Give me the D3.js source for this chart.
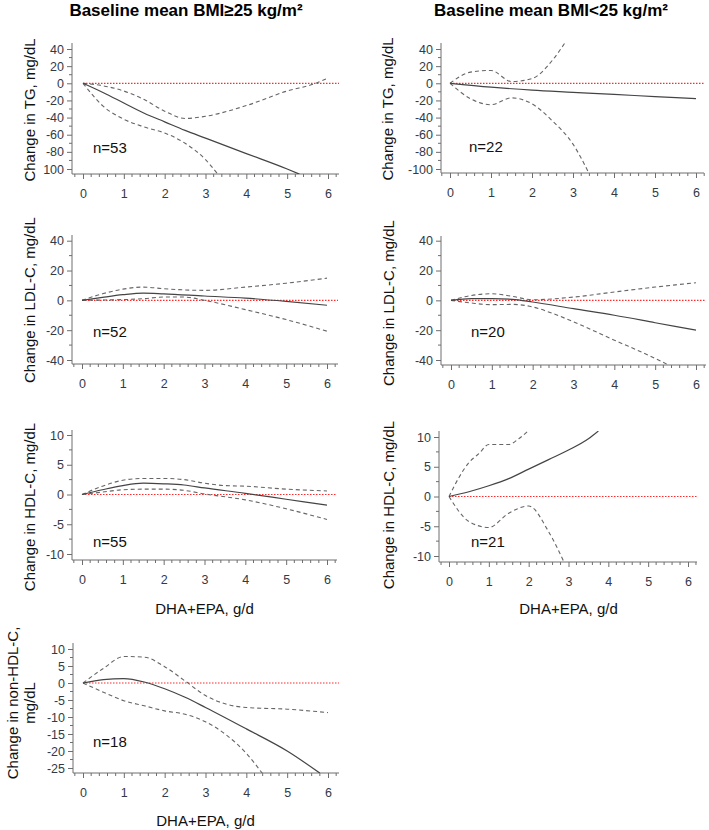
<!DOCTYPE html>
<html>
<head>
<meta charset="utf-8">
<script src="https://cdn.jsdelivr.net/npm/d3@7"></script>
<style>
  body { margin: 0; background: #fff; }
  svg text { font-family: "Liberation Sans", Arial, sans-serif; }
</style>
</head>
<body>
<div id="container"></div>
<script>
// Chart size
const width = 709;
const height = 830;

// Tick values
const xTicks = [0, 1, 2, 3, 4, 5, 6];
const tgTicks = [40, 20, 0, -20, -40, -60, -80, -100];
const tgTickLabelsLeft = ['40', '20', '0', '-20', '-40', '-60', '-80', '100'];
const ldlTicks = [40, 20, 0, -20, -40];
const hdlTicks = [10, 5, 0, -5, -10];
const nonHdlTicks = [10, 5, 0, -5, -10, -15, -20, -25];

// Titles and labels
const columnTitles = ['Baseline mean BMI\u226525 kg/m\u00b2', 'Baseline mean BMI<25 kg/m\u00b2'];
const xLabel = 'DHA+EPA, g/d';

// TG, BMI >= 25 (n=53)
const tgHiEstX = [0, 0.5, 1, 1.5, 2, 2.5, 3, 4, 5, 5.3];
const tgHiEstY = [0, -11, -23, -35, -45, -55, -64, -82, -100, -106];
const tgHiUpX = [0, 0.5, 1, 1.5, 2, 2.5, 3, 4, 5, 5.7, 5.95];
const tgHiUpY = [0, -3, -9, -19, -32.5, -41, -38.5, -26, -9, 0, 5];
const tgHiLoX = [0, 0.5, 1, 1.5, 2, 2.5, 3, 3.3];
const tgHiLoY = [0, -27, -42, -51, -58, -70, -89, -106];

// TG, BMI < 25 (n=22)
const tgLoEstX = [0, 1, 2, 3, 4, 5, 6];
const tgLoEstY = [0, -4.5, -8, -10.5, -13, -15.5, -18];
const tgLoUpX = [0, 0.5, 1, 1.5, 2, 2.5, 2.8];
const tgLoUpY = [0, 13, 15, 2, 5.5, 27, 47];
const tgLoLoX = [0, 0.5, 1, 1.5, 2, 2.5, 3, 3.4];
const tgLoLoY = [0, -18, -25, -17, -24, -44, -71, -106];

// LDL-C, BMI >= 25 (n=52)
const ldlHiEstX = [0, 0.5, 1, 1.5, 2, 3, 4, 5, 6];
const ldlHiEstY = [0, 2, 3.8, 4.9, 4.4, 2.9, 1.5, -0.7, -3.3];
const ldlHiUpX = [0, 0.5, 1, 1.5, 2, 3, 4, 5, 6];
const ldlHiUpY = [0, 4.4, 7.5, 8.9, 7.8, 6.7, 8.9, 11.5, 14.9];
const ldlHiLoX = [0, 0.5, 1, 1.5, 2, 2.5, 3, 4, 5, 6];
const ldlHiLoY = [0, 0.2, 0.5, 1.1, 2.2, 2.2, 0, -6.2, -12.9, -20.7];

// LDL-C, BMI < 25 (n=20)
const ldlLoEstX = [0, 0.5, 1, 1.5, 2, 3, 4, 5, 6];
const ldlLoEstY = [0, 1.1, 1.1, 0.7, -1.1, -5.6, -10, -15, -20];
const ldlLoUpX = [0, 0.5, 1, 1.5, 2, 3, 4, 5, 5.5, 6];
const ldlLoUpY = [0, 3.3, 4.4, 2.7, 0.4, 2.2, 5.6, 8.9, 10.4, 11.8];
const ldlLoLoX = [0, 0.5, 1, 1.5, 2, 2.5, 3, 4, 5, 5.3];
const ldlLoLoY = [0, -1.8, -2.9, -2.7, -4.4, -8.9, -14.4, -26.7, -38.9, -43];

// HDL-C, BMI >= 25 (n=55)
const hdlHiEstX = [0, 0.5, 1, 1.5, 2, 2.5, 3, 4, 5, 6];
const hdlHiEstY = [0, 0.8, 1.5, 1.9, 1.8, 1.6, 1.1, 0.2, -0.8, -1.8];
const hdlHiUpX = [0, 0.5, 1, 1.5, 2, 2.5, 3, 3.5, 4, 5, 6];
const hdlHiUpY = [0, 1.4, 2.4, 2.7, 2.7, 2.5, 1.9, 1.5, 1.4, 0.9, 0.6];
const hdlHiLoX = [0, 0.5, 1, 1.5, 2, 2.5, 3, 4, 5, 6];
const hdlHiLoY = [0, 0.4, 0.8, 0.9, 0.9, 0.7, 0.1, -0.9, -2.4, -4.2];

// HDL-C, BMI < 25 (n=21)
const hdlLoEstX = [0, 0.5, 1, 1.5, 2, 2.5, 3, 3.5, 3.75];
const hdlLoEstY = [0, 0.8, 1.8, 3.0, 4.6, 6.2, 7.8, 9.7, 11];
const hdlLoUpX = [0, 0.25, 0.5, 0.75, 1, 1.5, 1.75, 2];
const hdlLoUpY = [0, 3.2, 5.7, 7.2, 8.75, 8.75, 9.7, 11.1];
const hdlLoLoX = [0, 0.5, 1, 1.5, 2, 2.5, 2.9];
const hdlLoLoY = [0, -4.2, -5.2, -2.8, -1.6, -5.9, -11.2];

// non-HDL-C, BMI >= 25 (n=18)
const nhdlEstX = [0, 0.5, 1, 1.5, 2, 2.5, 3, 4, 5, 5.8];
const nhdlEstY = [0, 1.0, 1.3, 0.3, -1.7, -4.2, -7.2, -13.5, -20, -26.5];
const nhdlUpX = [0, 0.5, 1, 1.5, 2, 2.5, 3, 3.5, 4, 5, 6];
const nhdlUpY = [0, 4.3, 7.8, 7.6, 4.8, 0.6, -3.7, -6.2, -7.2, -7.7, -8.7];
const nhdlLoX = [0, 0.5, 1, 1.5, 2, 2.5, 3, 3.5, 4, 4.4];
const nhdlLoY = [0, -2.7, -5.2, -6.7, -8.2, -9.2, -11.4, -15.2, -20.7, -26.7];

// Create the SVG element
const svg = d3.select('#container')
    .append('svg')
    .attr('width', width)
    .attr('height', height);

const tickColor = '#333a46';
const axisColor = '#6e6e6e';

// Column titles
svg.append('text')
    .attr('x', 186).attr('y', 16)
    .attr('text-anchor', 'middle')
    .style('font-size', '17px').style('font-weight', 'bold')
    .text(columnTitles[0]);
svg.append('text')
    .attr('x', 551).attr('y', 16)
    .attr('text-anchor', 'middle')
    .style('font-size', '17px').style('font-weight', 'bold')
    .text(columnTitles[1]);

const zip = (xs, ys) => xs.map((x, i) => [x, ys[i]]);

// Panel layouts (pixel positions only)
const panels = [
    { id: 'p1', axisX: 72, x0: 83, x6: 328, right: 339, top: 43, bottom: 174,
      yTicks: tgTicks, yLabels: tgTickLabelsLeft, yMinorStep: 10, yv: [40, -100], yp: [49, 169],
      yLabel: ['Change in TG, mg/dL'], labelX: 30, labelY: 110,
      n: 'n=53', nX: 93, nY: 153, xTitleY: null,
      est: zip(tgHiEstX, tgHiEstY), up: zip(tgHiUpX, tgHiUpY), lo: zip(tgHiLoX, tgHiLoY) },
    { id: 'p2', axisX: 441, x0: 450, x6: 696, right: 704, top: 43, bottom: 173,
      yTicks: tgTicks, yLabels: null, yMinorStep: 10, yv: [40, -100], yp: [49, 169],
      yLabel: ['Change in TG, mg/dL'], labelX: 388, labelY: 109,
      n: 'n=22', nX: 469, nY: 152, xTitleY: null,
      est: zip(tgLoEstX, tgLoEstY), up: zip(tgLoUpX, tgLoUpY), lo: zip(tgLoLoX, tgLoLoY) },
    { id: 'p3', axisX: 72, x0: 82, x6: 327, right: 338, top: 235, bottom: 364,
      yTicks: ldlTicks, yLabels: null, yMinorStep: 10, yv: [40, -40], yp: [240.7, 360],
      yLabel: ['Change in LDL-C, mg/dL'], labelX: 30, labelY: 300,
      n: 'n=52', nX: 93, nY: 337, xTitleY: null,
      est: zip(ldlHiEstX, ldlHiEstY), up: zip(ldlHiUpX, ldlHiUpY), lo: zip(ldlHiLoX, ldlHiLoY) },
    { id: 'p4', axisX: 441, x0: 451, x6: 696, right: 706, top: 236, bottom: 365,
      yTicks: ldlTicks, yLabels: null, yMinorStep: 10, yv: [40, -40], yp: [240.7, 360],
      yLabel: ['Change in LDL-C, mg/dL'], labelX: 389, labelY: 303,
      n: 'n=20', nX: 471, nY: 337, xTitleY: null,
      est: zip(ldlLoEstX, ldlLoEstY), up: zip(ldlLoUpX, ldlLoUpY), lo: zip(ldlLoLoX, ldlLoLoY) },
    { id: 'p5', axisX: 72, x0: 82, x6: 327, right: 337, top: 430, bottom: 560,
      yTicks: hdlTicks, yLabels: null, yMinorStep: 2.5, yv: [10, -10], yp: [435, 554],
      yLabel: ['Change in HDL-C, mg/dL'], labelX: 30, labelY: 507,
      n: 'n=55', nX: 93, nY: 547, xTitleY: 614,
      est: zip(hdlHiEstX, hdlHiEstY), up: zip(hdlHiUpX, hdlHiUpY), lo: zip(hdlHiLoX, hdlHiLoY) },
    { id: 'p6', axisX: 439, x0: 449, x6: 688, right: 697, top: 431, bottom: 562,
      yTicks: hdlTicks, yLabels: null, yMinorStep: 2.5, yv: [10, -10], yp: [437, 556],
      yLabel: ['Change in HDL-C, mg/dL'], labelX: 389, labelY: 505,
      n: 'n=21', nX: 471, nY: 547, xTitleY: 614,
      est: zip(hdlLoEstX, hdlLoEstY), up: zip(hdlLoUpX, hdlLoUpY), lo: zip(hdlLoLoX, hdlLoLoY) },
    { id: 'p7', axisX: 73, x0: 83, x6: 328, right: 339, top: 643, bottom: 773,
      yTicks: nonHdlTicks, yLabels: null, yMinorStep: 2.5, yv: [10, -25], yp: [649, 768],
      yLabel: ['Change in non-HDL-C,', 'mg/dL'], labelX: 13, labelY: 703,
      n: 'n=18', nX: 93, nY: 747, xTitleY: 826,
      est: zip(nhdlEstX, nhdlEstY), up: zip(nhdlUpX, nhdlUpY), lo: zip(nhdlLoX, nhdlLoY) }
];

panels.forEach(p => {
    const x = d3.scaleLinear().domain([0, 6]).range([p.x0, p.x6]);
    const y = d3.scaleLinear().domain(p.yv).range(p.yp);
    const g = svg.append('g');

    // Clip area for the curves
    svg.append('clipPath').attr('id', 'clip-' + p.id)
        .append('rect')
        .attr('x', p.axisX).attr('y', p.top)
        .attr('width', p.right - p.axisX).attr('height', p.bottom - p.top);

    // Y axis (major + minor ticks), plain hyphen minus like the original
    const yAxis = d3.axisLeft(y).tickValues(p.yTicks).tickSize(5).tickPadding(3)
        .tickFormat((d, i) => p.yLabels ? p.yLabels[i] : String(d));
    const yg = g.append('g').attr('transform', `translate(${p.axisX},0)`).call(yAxis);
    yg.select('.domain').remove();
    yg.selectAll('line').attr('stroke', axisColor);
    yg.selectAll('text').attr('fill', tickColor).style('font-size', '12.5px');
    const yMin = y.invert(p.bottom), yMax = y.invert(p.top);
    const yMinor = d3.range(Math.ceil(yMin / p.yMinorStep) * p.yMinorStep, yMax, p.yMinorStep)
        .filter(v => !p.yTicks.includes(v));
    g.selectAll(null).data(yMinor).enter().append('line')
        .attr('x1', p.axisX - 3).attr('x2', p.axisX)
        .attr('y1', d => y(d)).attr('y2', d => y(d))
        .attr('stroke', axisColor);
    g.append('line')
        .attr('x1', p.axisX).attr('x2', p.axisX)
        .attr('y1', p.top).attr('y2', p.bottom)
        .attr('stroke', axisColor);

    // X axis (major + minor ticks)
    const xAxis = d3.axisBottom(x).tickValues(xTicks).tickSize(5).tickPadding(10)
        .tickFormat(d => String(d));
    const xg = g.append('g').attr('transform', `translate(0,${p.bottom})`).call(xAxis);
    xg.select('.domain').remove();
    xg.selectAll('line').attr('stroke', axisColor);
    xg.selectAll('text').attr('fill', tickColor).style('font-size', '12.5px');
    const xMinor = d3.range(-0.2, x.invert(p.right) + 0.01, 0.2)
        .filter(v => Math.abs(v - Math.round(v)) > 0.01);
    g.selectAll(null).data(xMinor).enter().append('line')
        .attr('x1', d => x(d)).attr('x2', d => x(d))
        .attr('y1', p.bottom).attr('y2', p.bottom + 3)
        .attr('stroke', axisColor);
    g.append('line')
        .attr('x1', p.axisX).attr('x2', p.right)
        .attr('y1', p.bottom).attr('y2', p.bottom)
        .attr('stroke', axisColor);

    // Reference line at zero
    g.append('line')
        .attr('x1', x(0)).attr('x2', p.right)
        .attr('y1', y(0)).attr('y2', y(0))
        .attr('stroke', '#ff2a2a').attr('stroke-width', 1.2)
        .attr('stroke-dasharray', '1.5,1.5');

    // Curves
    const line = d3.line().x(d => x(d[0])).y(d => y(d[1])).curve(d3.curveMonotoneX);
    const curves = g.append('g').attr('clip-path', `url(#clip-${p.id})`);
    curves.append('path').datum(p.up).attr('d', line)
        .attr('fill', 'none').attr('stroke', '#666').attr('stroke-width', 1.1)
        .attr('stroke-dasharray', '4,3');
    curves.append('path').datum(p.lo).attr('d', line)
        .attr('fill', 'none').attr('stroke', '#666').attr('stroke-width', 1.1)
        .attr('stroke-dasharray', '4,3');
    curves.append('path').datum(p.est).attr('d', line)
        .attr('fill', 'none').attr('stroke', '#444').attr('stroke-width', 1.2);

    // Sample size
    g.append('text').attr('x', p.nX).attr('y', p.nY)
        .style('font-size', '15px').attr('fill', '#111').text(p.n);

    // Y label
    const yl = g.append('text')
        .attr('transform', `translate(${p.labelX},${p.labelY}) rotate(-90)`)
        .attr('text-anchor', 'middle')
        .style('font-size', '15px').attr('fill', '#111');
    p.yLabel.forEach((t, i) => {
        yl.append('tspan').attr('x', 0).attr('dy', i === 0 ? 5 : 17).text(t);
    });

    // X label
    if (p.xTitleY) {
        g.append('text').attr('x', (p.x0 + p.x6) / 2).attr('y', p.xTitleY)
            .attr('text-anchor', 'middle')
            .style('font-size', '15px').attr('fill', '#111').text(xLabel);
    }
});
</script>
</body>
</html>
